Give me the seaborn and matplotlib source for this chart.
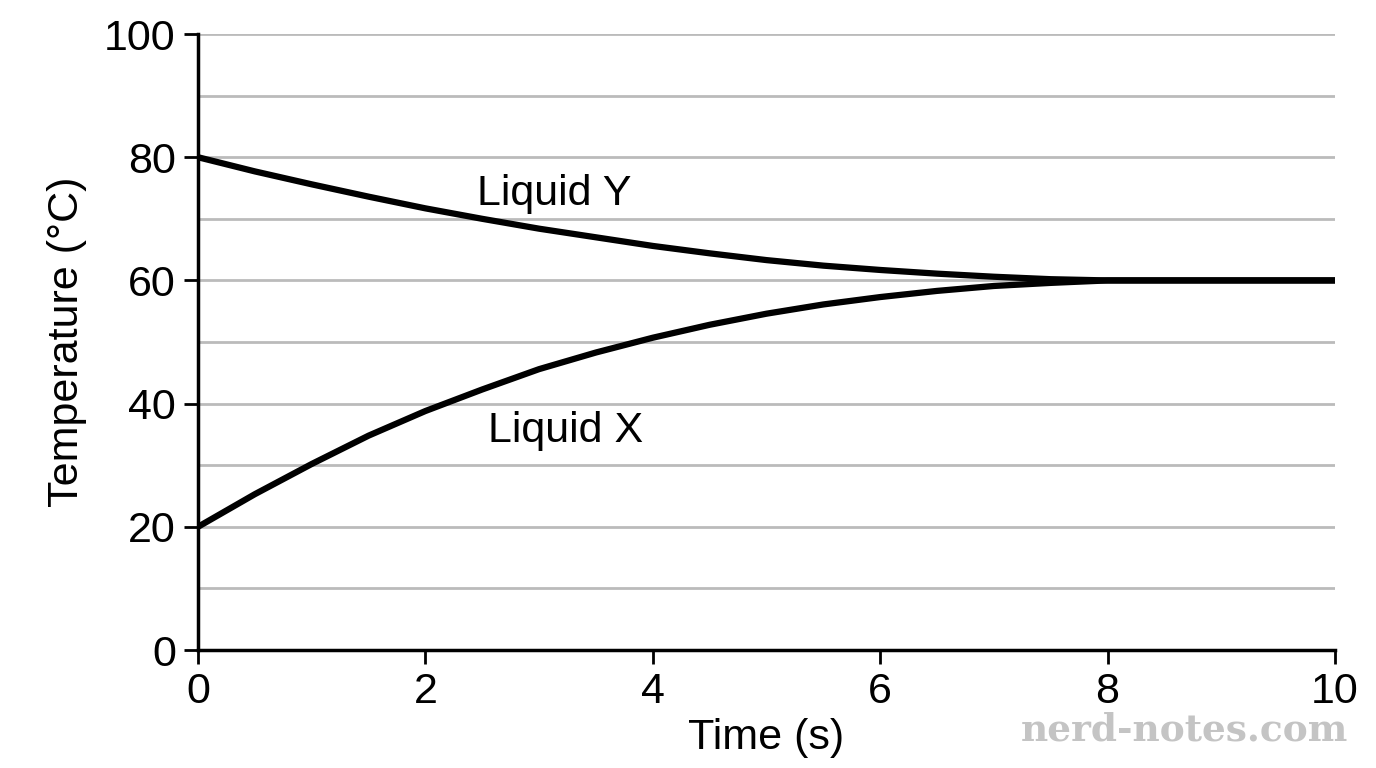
import matplotlib
matplotlib.use('Agg')
import matplotlib.pyplot as plt
import pandas as pd
import seaborn as sns

time_s = [0, 0.5, 1, 1.5, 2, 2.5, 3, 3.5, 4, 4.5, 5, 5.5, 6, 6.5, 7, 7.5, 8, 9, 10]
liquid_x = [20, 25.3, 30.2, 34.8, 38.8, 42.3, 45.6, 48.3, 50.7, 52.8, 54.6, 56.1,
            57.3, 58.3, 59.1, 59.6, 60, 60, 60]
liquid_y = [80, 77.7, 75.6, 73.6, 71.7, 70.0, 68.4, 67.0, 65.6, 64.4, 63.3, 62.4,
            61.7, 61.1, 60.6, 60.2, 60, 60, 60]

df = pd.DataFrame({'t': time_s * 2,
                   'temp': liquid_x + liquid_y,
                   'liquid': ['X'] * len(time_s) + ['Y'] * len(time_s)})

sns.set_style('ticks')
plt.rcParams['font.family'] = ['Liberation Sans', 'DejaVu Sans']
plt.rcParams['text.color'] = 'black'
plt.rcParams['axes.labelcolor'] = 'black'
plt.rcParams['xtick.color'] = 'black'
plt.rcParams['ytick.color'] = 'black'

fig = plt.figure(figsize=(13.76, 7.68), dpi=100)
ax = fig.add_axes([0.1439, 0.1536, 0.8263, 0.8021])
for v in range(10, 101, 10):
    ax.axhline(v, color='#bbbbbb', lw=2, zorder=0)
sns.lineplot(data=df, x='t', y='temp', units='liquid', estimator=None,
             color='black', lw=4.5, ax=ax)

ax.set_xlim(0, 10)
ax.set_ylim(0, 100)
ax.set_xticks(range(0, 11, 2))
ax.set_yticks(range(0, 101, 20))
ax.tick_params(labelsize=31, width=2, length=10, color='black', pad=6)
ax.set_xlabel('Time (s)', fontsize=31, labelpad=4)
ax.set_ylabel('Temperature (°C)', fontsize=31, labelpad=12)
sns.despine(ax=ax)
for s in ('left', 'bottom'):
    ax.spines[s].set_linewidth(2.5)
    ax.spines[s].set_color('black')

ax.text(2.45, 74, 'Liquid Y', fontsize=31, ha='left', va='center')
ax.text(2.55, 35.5, 'Liquid X', fontsize=31, ha='left', va='center')
fig.text(0.98, 0.05, 'nerd-notes.com', fontsize=27, color='#c4c4c4',
         family='DejaVu Serif', weight='bold', ha='right', va='center')

plt.savefig('out.png', dpi=100)
